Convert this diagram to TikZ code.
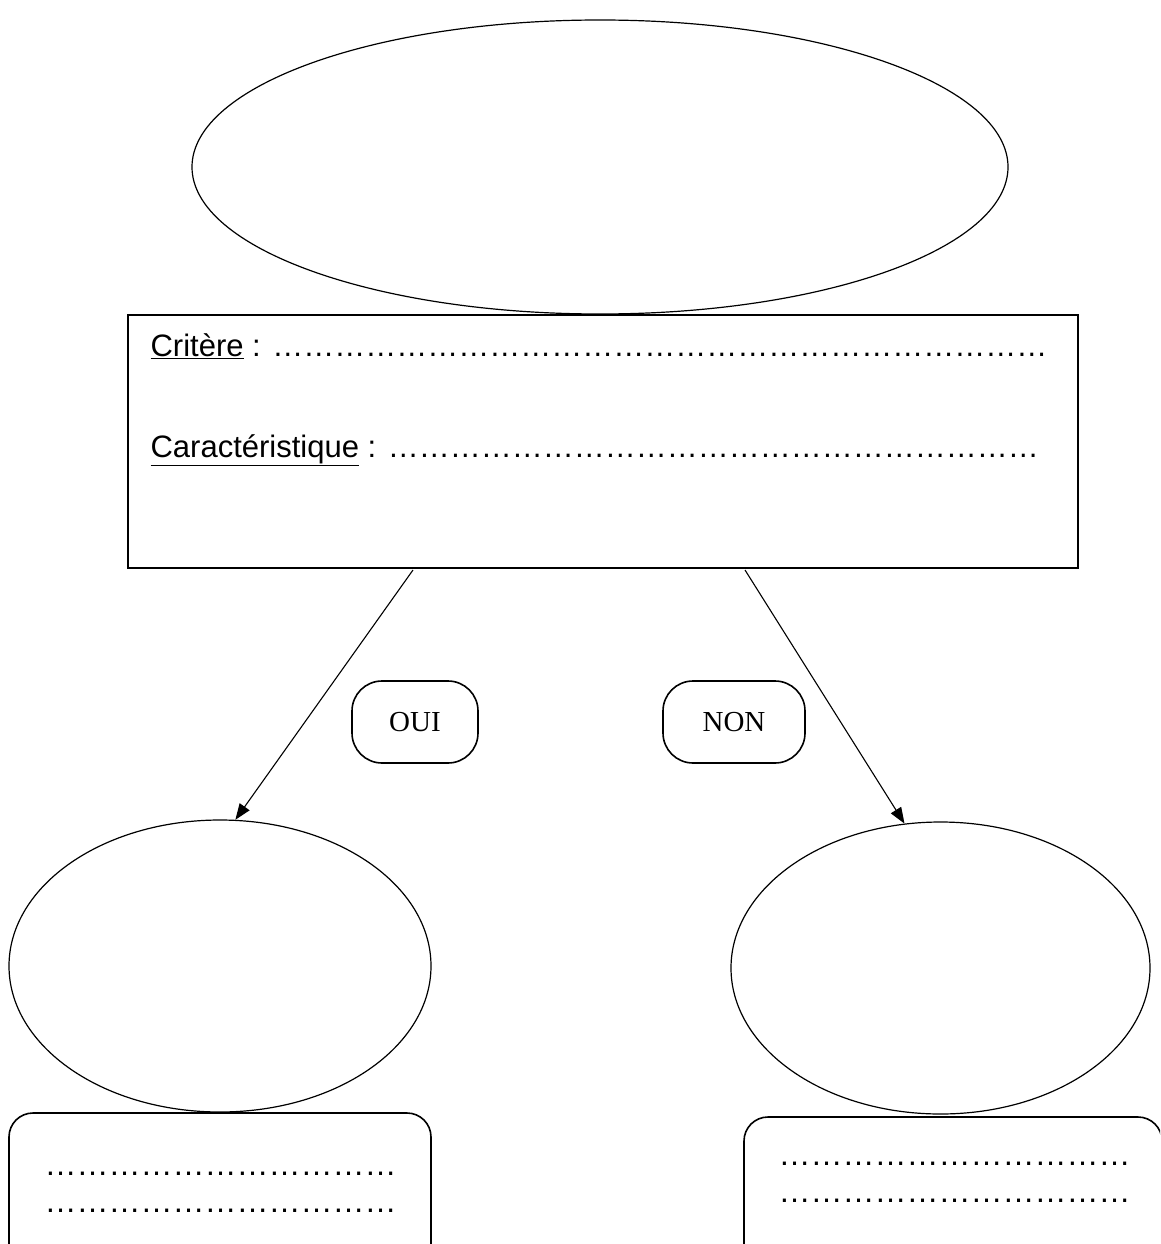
\documentclass[tikz,border=0pt]{standalone}
\usepackage{fontspec}
\setmainfont{Liberation Sans}
\newfontfamily\timesf{Liberation Serif}
\usetikzlibrary{shapes.geometric,arrows.meta}
\newcommand{\dotsn}[1]{\foreach \i in {1,...,#1}{…}}
\begin{document}
\begin{tikzpicture}[x=1pt,y=-1pt,line width=1.2pt,
  oval/.style={draw,ellipse,inner sep=0pt},
  frame/.style={draw,rectangle,inner sep=0pt},
  pill/.style={draw,rectangle,rounded corners=30pt,line width=1.6pt,inner sep=0pt,minimum height=82pt,font=\timesf\fontsize{29}{33}\selectfont},
  answer/.style={draw,rectangle,rounded corners=24pt,line width=1.6pt,inner sep=0pt},
  txt/.style={anchor=base west,inner sep=0pt,font=\fontsize{31}{37}\selectfont},
  dotline/.style={anchor=base west,inner sep=0pt,font=\fontsize{32}{37}\selectfont},
  arr/.style={-{Triangle[length=16pt,width=12pt]},line width=1.1pt}]
\useasboundingbox (0,0) rectangle (1160,1244);
\clip (0,0) rectangle (1160,1244);
\node[oval,minimum width=816pt,minimum height=294pt] (top) at (600,167) {};
\node[frame,minimum width=950pt,minimum height=253pt] (crit) at (603,441.5) {};
\node[txt] (t1) at (150,356) {\underline{Critère} : \dotsn{25}};
\node[txt] (t2) at (150,457) {\underline{Caractéristique} : \dotsn{21}};
\node[pill,minimum width=126pt] (oui) at (415,722) {OUI};
\node[pill,minimum width=142pt] (non) at (734,722) {NON};
\node[oval,minimum width=422pt,minimum height=292pt] (lell) at (220,966) {};
\node[oval,minimum width=419pt,minimum height=292pt] (rell) at (940.5,968) {};
\coordinate (s1) at (413,570);
\coordinate (s2) at (745,570);
\draw[arr] (s1) -- (lell.84);
\draw[arr] (s2) -- (rell.104);
\node[answer,minimum width=422pt,minimum height=157pt] (lbox) at (220,1191.5) {};
\node[answer,minimum width=418pt,minimum height=153pt] (rbox) at (953,1193.5) {};
\node[dotline] (l1) at (44,1175) {\dotsn{11}};
\node[dotline] (l2) at (44,1212) {\dotsn{11}};
\node[dotline] (r1) at (778,1165) {\dotsn{11}};
\node[dotline] (r2) at (778,1202) {\dotsn{11}};
\end{tikzpicture}
\end{document}
